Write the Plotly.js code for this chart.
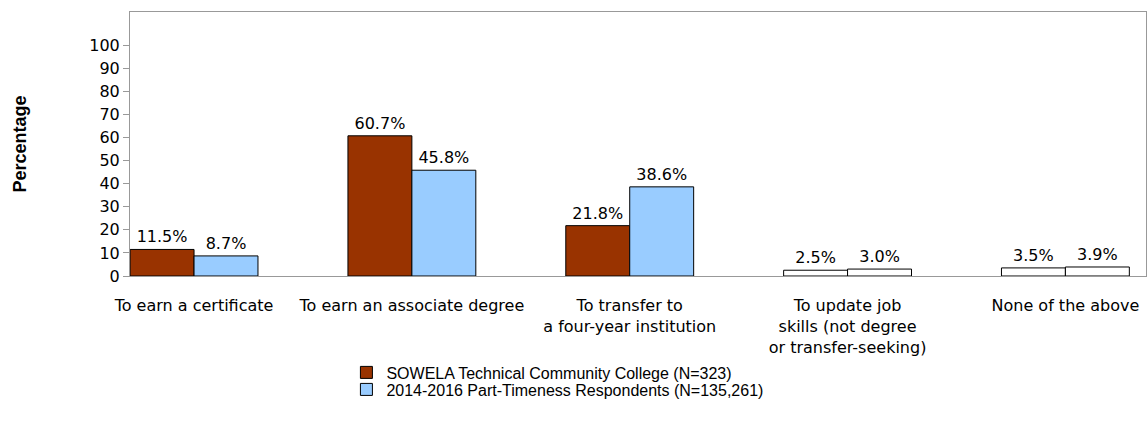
<!DOCTYPE html>
<html>
<head>
<meta charset="utf-8">
<script src="https://cdn.plot.ly/plotly-3.0.1.min.js"></script>
<style>
  html, body { margin: 0; padding: 0; background: #fff; }
  #chart { width: 1147px; height: 431px; }
</style>
</head>
<body>
<div id="chart"></div>
<script>
const categories = [
  "To earn a certificate",
  "To earn an associate degree",
  "To transfer to<br>a four-year institution",
  "To update job<br>skills (not degree<br>or transfer-seeking)",
  "None of the above"
];
const seriesNames = [
  "SOWELA Technical Community College (N=323)",
  "2014-2016 Part-Timeness Respondents (N=135,261)"
];
const sowelaValues = [11.5, 60.7, 21.8, 2.5, 3.5];
const nationalValues = [8.7, 45.8, 38.6, 3.0, 3.9];
const yTickValues = [0, 10, 20, 30, 40, 50, 60, 70, 80, 90, 100];

const sowelaColors = ["#993300", "#993300", "#993300", "#FFFFFF", "#FFFFFF"];
const nationalColors = ["#99CCFF", "#99CCFF", "#99CCFF", "#FFFFFF", "#FFFFFF"];

const textFont = "DejaVu Sans, Liberation Sans, Arial, sans-serif";
const arialFont = "Liberation Sans, Arial, sans-serif";

const traces = [
  {
    type: "bar",
    name: seriesNames[0],
    legend: "legend",
    x: categories,
    y: sowelaValues,
    text: sowelaValues.map(v => v.toFixed(1) + "%"),
    textposition: "outside",
    cliponaxis: false,
    textfont: { family: textFont, size: 16, color: "#000" },
    marker: { color: sowelaColors, line: { color: "#000", width: 1 } },
    hoverinfo: "none"
  },
  {
    type: "bar",
    name: seriesNames[1],
    legend: "legend2",
    x: categories,
    y: nationalValues,
    text: nationalValues.map(v => v.toFixed(1) + "%"),
    textposition: "outside",
    cliponaxis: false,
    textfont: { family: textFont, size: 16, color: "#000" },
    marker: { color: nationalColors, line: { color: "#000", width: 1 } },
    hoverinfo: "none"
  }
];

const legendBase = {
  orientation: "v",
  x: 0.213,
  xanchor: "left",
  yanchor: "middle",
  font: { family: arialFont, size: 16, color: "#000" },
  bgcolor: "rgba(0,0,0,0)"
};

const layout = {
  width: 1147,
  height: 431,
  margin: { l: 130, r: 1, t: 12, b: 155 },
  paper_bgcolor: "#fff",
  plot_bgcolor: "#fff",
  font: { family: textFont, size: 16, color: "#000" },
  barmode: "group",
  bargap: 0.413,
  bargroupgap: 0,
  showlegend: true,
  legend: Object.assign({}, legendBase, { y: -0.3655 }),
  legend2: Object.assign({}, legendBase, { y: -0.43 }),
  xaxis: {
    type: "category",
    range: [-0.294, 4.37],
    showline: true,
    linecolor: "#999",
    linewidth: 1,
    mirror: true,
    ticks: "",
    ticklabelstandoff: 15,
    tickfont: { family: textFont, size: 16, color: "#000" },
    showgrid: false,
    zeroline: false,
    tickangle: 0
  },
  yaxis: {
    range: [0, 114.3],
    tickvals: yTickValues,
    ticktext: yTickValues.map(String),
    showline: true,
    linecolor: "#999",
    linewidth: 1,
    mirror: true,
    ticks: "outside",
    ticklen: 6,
    tickcolor: "#999",
    tickfont: { family: textFont, size: 16, color: "#000" },
    showgrid: false,
    zeroline: false,
    title: {
      text: "<b>Percentage</b>",
      font: { family: arialFont, size: 18, color: "#000" },
      standoff: 57
    }
  }
};

Plotly.newPlot("chart", traces, layout, { displayModeBar: false, staticPlot: true });
</script>
</body>
</html>
